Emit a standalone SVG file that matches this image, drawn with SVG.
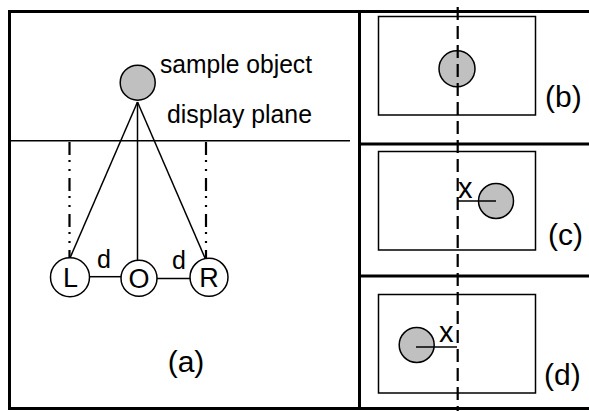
<svg xmlns="http://www.w3.org/2000/svg" width="589" height="411" viewBox="0 0 589 411">
<style>
text{font-family:"Liberation Sans",Arial,sans-serif;fill:#000}
.frame{fill:none;stroke:#000;stroke-width:3}
.thin{fill:none;stroke:#000;stroke-width:1.5}
.obj{fill:#c0c0c0;stroke:#000;stroke-width:1.5}
.eye{fill:#fff;stroke:#000;stroke-width:1.5}
.ddot{stroke:#000;stroke-width:2.2;stroke-dasharray:13,5,2,7,2,7;fill:none}
.dash{stroke:#000;stroke-width:2.2;stroke-dasharray:13,6;fill:none}
.lab{font-size:25px}
.big{font-size:30px}
.eyel{font-size:27px}
.xl{font-size:29px}
</style>
<rect x="0" y="0" width="589" height="411" fill="#fff"/>
<g id="frames">
<rect class="frame" x="9.5" y="11.5" width="590" height="397"/>
<line class="frame" x1="359.5" y1="11" x2="359.5" y2="409"/>
<line class="frame" x1="359" y1="144" x2="592" y2="144"/>
<line class="frame" x1="359" y1="276" x2="592" y2="276"/>
</g>
<g id="display-plane">
<line class="thin" x1="11" y1="140.7" x2="350" y2="140.7"/>
<text class="lab" x="167" y="123" textLength="145" lengthAdjust="spacingAndGlyphs">display plane</text>
</g>
<g id="connectors">
<line class="thin" x1="137.5" y1="102" x2="70" y2="258"/>
<line class="thin" x1="137.5" y1="102" x2="137.5" y2="260"/>
<line class="thin" x1="137.5" y1="102" x2="205" y2="258"/>
<line class="ddot" x1="69.5" y1="142" x2="69.5" y2="258"/>
<line class="ddot" x1="206" y1="142" x2="206" y2="258"/>
<line class="thin" x1="90" y1="276.7" x2="121" y2="276.7"/>
<line class="thin" x1="157" y1="278.5" x2="190" y2="278.5"/>
<text class="lab" x="97" y="268" font-size="26">d</text>
<text class="lab" x="172" y="269" font-size="26">d</text>
</g>
<g id="sample-object">
<circle class="obj" cx="137.7" cy="82.7" r="17.5"/>
<text class="lab" x="160" y="73" textLength="152" lengthAdjust="spacingAndGlyphs">sample object</text>
</g>
<g id="L">
<circle class="eye" cx="70" cy="277.3" r="19.5"/>
<text class="eyel" x="70.5" y="286.5" text-anchor="middle">L</text>
</g>
<g id="O">
<circle class="eye" cx="139" cy="278.3" r="18"/>
<text class="eyel" x="139" y="287.5" text-anchor="middle">O</text>
</g>
<g id="R">
<circle class="eye" cx="209" cy="277.3" r="19"/>
<text class="eyel" x="209" y="286.5" text-anchor="middle">R</text>
</g>
<text class="big" x="186" y="372" text-anchor="middle">(a)</text>
<g id="panel-b">
<rect class="thin" x="378.5" y="16.5" width="157" height="98.5"/>
<circle class="obj" cx="457" cy="68.7" r="18"/>
<text class="big" x="545" y="107">(b)</text>
</g>
<g id="panel-c">
<rect class="thin" x="378.5" y="151.5" width="157" height="98.5"/>
<circle class="obj" cx="496" cy="201" r="17.5"/>
<line class="thin" x1="457" y1="201" x2="496" y2="201"/>
<text class="xl" x="458" y="198">x</text>
<text class="big" x="548" y="245">(c)</text>
</g>
<g id="panel-d">
<rect class="thin" x="378.5" y="294.5" width="157" height="98.5"/>
<circle class="obj" cx="416.7" cy="345" r="17.5"/>
<line class="thin" x1="416" y1="347" x2="457" y2="347"/>
<text class="xl" x="439" y="342">x</text>
<text class="big" x="544" y="385">(d)</text>
</g>
<g id="center-axis">
<line class="dash" x1="457.7" y1="7" x2="457.7" y2="411"/>
</g>
</svg>
